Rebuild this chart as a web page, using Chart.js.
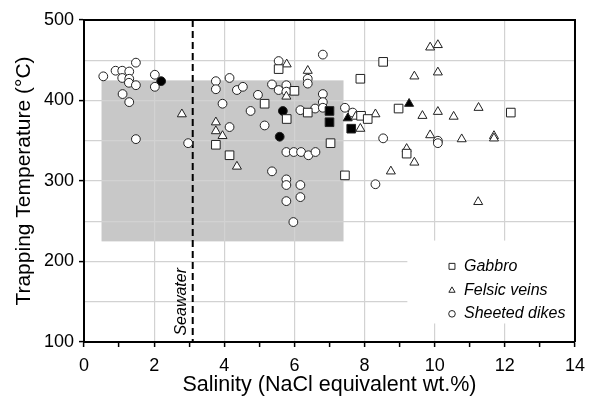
<!DOCTYPE html>
<html>
<head>
<meta charset="utf-8">
<script src="https://cdn.jsdelivr.net/npm/chart.js@4.4.1/dist/chart.umd.min.js"></script>
<style>
body { margin: 0; background: #fff; }
</style>
</head>
<body>
<canvas id="myChart" width="593" height="398"></canvas>
<script>
// salinity (wt.%) , trapping temperature (C)
var gabbroOpen = [[5.55,439],[6.0,412],[5.15,396],[5.78,377],[6.38,385],[7.03,347],[3.76,345],
    [4.15,332],[7.44,307],[8.53,448],[7.88,427],[8.97,390],[9.2,334],[7.9,381],[8.09,377],[12.17,385]];
var gabbroFilled = [[7.0,387],[7.0,373],[7.62,365]];

var felsicOpen = [[2.79,383],[5.78,445],[6.38,437],[5.77,405],[3.76,373],[3.76,362],[3.95,356],
    [4.36,318],[9.42,430],[9.87,466],[10.09,469],[10.09,435],[9.65,381],[10.09,386],[10.54,380],
    [9.87,357],[9.2,340],[9.42,323],[8.75,312],[7.88,365],[8.31,383],[7.75,380],[11.25,391],
    [10.77,352],[11.69,356],[11.69,353],[11.24,274]];
var felsicFilled = [[7.52,378],[9.27,396]];

var dikesOpen = [[0.55,430],[0.9,437],[1.09,437],[1.29,436],[1.48,447],[1.09,428],[1.29,427],
    [1.28,422],[1.48,419],[1.1,408],[1.29,398],[1.48,352],[2.02,432],[2.02,417],[2.97,347],
    [5.55,449],[6.81,457],[6.38,427],[6.38,421],[3.76,424],[3.76,414],[4.15,428],[4.36,413],
    [4.53,417],[3.95,396],[4.75,387],[4.96,407],[5.36,420],[5.55,413],[5.77,419],[5.77,411],
    [5.15,369],[4.15,367],[5.36,312],[5.77,302],[5.77,295],[6.17,295],[6.17,280],[5.77,275],
    [5.97,249],[5.77,336],[5.98,336],[6.19,336],[6.4,332],[6.6,336],[6.17,388],[6.59,390],
    [6.81,408],[6.81,398],[6.81,391],[7.44,391],[7.66,385],[8.53,353],[8.31,296],[10.09,350],
    [10.09,347]];
var dikesFilled = [[2.2,424],[5.67,387],[5.58,355]];

var shadedSalinity = [0.5, 7.4];
var shadedTemp = [225, 425];
var seawaterSalinity = 3.1;
var legendLabels = ['Gabbro', 'Felsic veins', 'Sheeted dikes'];
var legendStyles = ['rect', 'triangle', 'circle'];

var FONT = "'Liberation Sans', Arial, Helvetica, sans-serif";

function toPoints(arr) {
    return arr.map(function(p){ return {x: p[0], y: p[1]}; });
}

function series(label, arr, style, filled, radius) {
    return {
        label: label,
        data: toPoints(arr),
        pointStyle: style,
        pointRadius: radius,
        pointHoverRadius: radius,
        pointBorderWidth: 1,
        pointBorderColor: '#222',
        pointBackgroundColor: filled ? '#000' : '#fff',
        showLine: false
    };
}

var decorations = {
    id: 'decorations',
    beforeDraw: function(chart) {
        var ctx = chart.ctx, xs = chart.scales.x, ys = chart.scales.y;
        ctx.save();
        ctx.fillStyle = '#fff';
        ctx.fillRect(0, 0, chart.width, chart.height);
        var l = xs.getPixelForValue(shadedSalinity[0]), r = xs.getPixelForValue(shadedSalinity[1]);
        var t = ys.getPixelForValue(shadedTemp[1]), b = ys.getPixelForValue(shadedTemp[0]);
        ctx.fillStyle = '#c8c8c8';
        ctx.fillRect(l, t, r - l, b - t);
        ctx.restore();
    },
    beforeDatasetsDraw: function(chart) {
        var ctx = chart.ctx, xs = chart.scales.x, ys = chart.scales.y, area = chart.chartArea;
        ctx.save();
        // legend box hides grid lines
        var bl = xs.getPixelForValue(9.22), bt = ys.getPixelForValue(226), bb = ys.getPixelForValue(123);
        ctx.fillStyle = '#fff';
        ctx.fillRect(bl, bt, area.right - bl, bb - bt);

        // seawater line
        var sx = xs.getPixelForValue(seawaterSalinity);
        ctx.strokeStyle = '#000';
        ctx.lineWidth = 2;
        ctx.setLineDash([7, 4]);
        ctx.beginPath();
        ctx.moveTo(sx, area.top);
        ctx.lineTo(sx, area.bottom);
        ctx.stroke();
        ctx.setLineDash([]);

        ctx.translate(sx - 11, ys.getPixelForValue(150));
        ctx.rotate(-Math.PI / 2);
        ctx.fillStyle = '#000';
        ctx.font = 'italic 16px ' + FONT;
        ctx.textAlign = 'center';
        ctx.textBaseline = 'middle';
        ctx.fillText('Seawater', 0, 0);
        ctx.restore();

        // legend
        ctx.save();
        var lx = area.right - 123;
        var rows = [ys.getPixelForValue(194), ys.getPixelForValue(164), ys.getPixelForValue(135)];
        var radii = [4.2, 3.6, 3.3];
        ctx.font = 'italic 16px ' + FONT;
        ctx.textBaseline = 'middle';
        ctx.textAlign = 'left';
        for (var i = 0; i < legendLabels.length; i++) {
            ctx.fillStyle = '#fff';
            ctx.strokeStyle = '#222';
            ctx.lineWidth = 1;
            Chart.helpers.drawPoint(ctx, {pointStyle: legendStyles[i], radius: radii[i], rotation: 0, borderWidth: 1}, lx, rows[i]);
            ctx.fillStyle = '#000';
            ctx.fillText(legendLabels[i], lx + 12, rows[i]);
        }
        ctx.restore();
    },
    afterDraw: function(chart) {
        var ctx = chart.ctx, area = chart.chartArea;
        ctx.save();
        ctx.strokeStyle = '#000';
        ctx.lineWidth = 2;
        ctx.beginPath();
        ctx.moveTo(area.left, area.top);
        ctx.lineTo(area.right, area.top);
        ctx.lineTo(area.right, area.bottom);
        ctx.stroke();
        ctx.restore();
    }
};

var config = {
    type: 'scatter',
    data: {
        datasets: [
            series('Gabbro', gabbroOpen, 'rect', false, 6.1),
            series('Gabbro filled', gabbroFilled, 'rect', true, 6.1),
            series('Felsic veins', felsicOpen, 'triangle', false, 5.2),
            series('Felsic veins filled', felsicFilled, 'triangle', true, 5.2),
            series('Sheeted dikes', dikesOpen, 'circle', false, 4.4),
            series('Sheeted dikes filled', dikesFilled, 'circle', true, 4.4)
        ]
    },
    options: {
        responsive: false,
        animation: false,
        devicePixelRatio: 1,
        layout: { padding: { top: 20, right: 17, left: 0, bottom: 0 } },
        plugins: { legend: { display: false }, tooltip: { enabled: false } },
        scales: {
            x: {
                type: 'linear', min: 0, max: 14,
                afterFit: function(s) { s.height = 56; },
                ticks: {
                    stepSize: 1, padding: 8, color: '#000',
                    font: { family: FONT, size: 18 },
                    autoSkip: false, maxRotation: 0,
                    callback: function(v) { return v % 2 === 0 ? String(v) : ''; }
                },
                grid: {
                    tickLength: 5,
                    color: function(c) {
                        var v = c.tick ? c.tick.value : 0;
                        return (v % 2 === 0 && v > 0 && v < 14) ? '#d2d2d2' : 'rgba(0,0,0,0)';
                    },
                    tickColor: '#000', tickWidth: 1.5, lineWidth: 1.2
                },
                border: { color: '#000', width: 2 },
                title: {
                    display: true, text: 'Salinity (NaCl equivalent wt.%)', color: '#000',
                    font: { family: FONT, size: 21.5 }, padding: { top: 0, bottom: 0 }
                }
            },
            y: {
                type: 'linear', min: 100, max: 500,
                afterFit: function(s) { s.width = 84; },
                ticks: {
                    stepSize: 50, padding: 5, color: '#000',
                    font: { family: FONT, size: 18 },
                    callback: function(v) { return v % 100 === 0 ? String(v) : ''; }
                },
                grid: {
                    tickLength: 5,
                    color: function(c) {
                        var v = c.tick ? c.tick.value : 0;
                        return (v > 100 && v < 500) ? '#d2d2d2' : 'rgba(0,0,0,0)';
                    },
                    tickColor: function(c) {
                        var v = c.tick ? c.tick.value : 0;
                        return v % 100 === 0 ? '#000' : 'rgba(0,0,0,0)';
                    },
                    tickWidth: 1.5, lineWidth: 1.2
                },
                border: { color: '#000', width: 2 },
                title: {
                    display: true, text: 'Trapping Temperature (°C)', color: '#000',
                    font: { family: FONT, size: 21 }, padding: { top: 12, bottom: 0 }
                }
            }
        }
    },
    plugins: [decorations]
};

var myChart = new Chart(document.getElementById('myChart'), config);
</script>
</body>
</html>
